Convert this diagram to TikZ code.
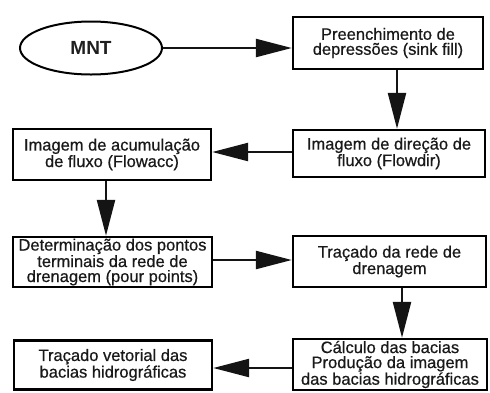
\documentclass[tikz,border=0pt]{standalone}
\usepackage{fontspec}
\setmainfont{Liberation Sans}
\newfontfamily\boxfont{Liberation Sans}[FakeBold=0.6]
\usetikzlibrary{arrows.meta,shapes.geometric}
\begin{document}
\begin{tikzpicture}[x=1pt,y=-1pt,
  box/.style={draw=black, line width=2.4pt, rectangle, inner sep=0pt, align=center,
    font=\boxfont\fontsize{16.5}{15}\selectfont, text=black!90},
  arr/.style={draw=black!92, line width=2.4pt, -{Triangle[length=36pt,width=18pt]}}]
\useasboundingbox (0,0) rectangle (490,392);
\node[draw, ellipse, line width=2pt, minimum width=142pt, minimum height=53pt, inner sep=0pt,
  font=\bfseries\fontsize{19}{19}\selectfont, text=black!88] (mnt) at (91,48) {MNT};
\node[box, minimum width=190pt, minimum height=52pt] (b1) at (388,43) {Preenchimento de\\depressões (sink fill)};
\node[box, minimum width=192pt, minimum height=47pt] (b2) at (389,153.5) {Imagem de direção de\\fluxo (Flowdir)};
\node[box, minimum width=198pt, minimum height=51pt] (b3) at (112,154.5) {Imagem de acumulação\\de fluxo (Flowacc)};
\node[box, minimum width=199pt, minimum height=50pt] (b4) at (112.5,262) {Determinação dos pontos\\terminais da rede de\\drenagem (pour points)};
\node[box, minimum width=193pt, minimum height=51pt] (b5) at (389.5,261.5) {Traçado da rede de\\drenagem};
\node[box, minimum width=194pt, minimum height=51pt] (b6) at (390,364.5) {Cálculo das bacias\\Produção da imagem\\das bacias hidrográficas};
\node[box, minimum width=198pt, minimum height=49pt] (b7) at (113,365) {Traçado vetorial das\\bacias hidrográficas};
\coordinate (xa) at (397,0);
\coordinate (xb) at (106,0);
\coordinate (xc) at (402,0);
\coordinate (ya) at (0,152);
\coordinate (yb) at (0,260);
\coordinate (yc) at (0,368);
\draw[arr] (mnt.east) -- (mnt.east -| b1.west);
\draw[arr] (b1.south -| xa) -- (b2.north -| xa);
\draw[arr] (b2.west |- ya) -- (b3.east |- ya);
\draw[arr] (b3.south -| xb) -- (b4.north -| xb);
\draw[arr] (b4.east |- yb) -- (b5.west |- yb);
\draw[arr] (b5.south -| xc) -- (b6.north -| xc);
\draw[arr] (b6.west |- yc) -- (b7.east |- yc);
\end{tikzpicture}
\end{document}
